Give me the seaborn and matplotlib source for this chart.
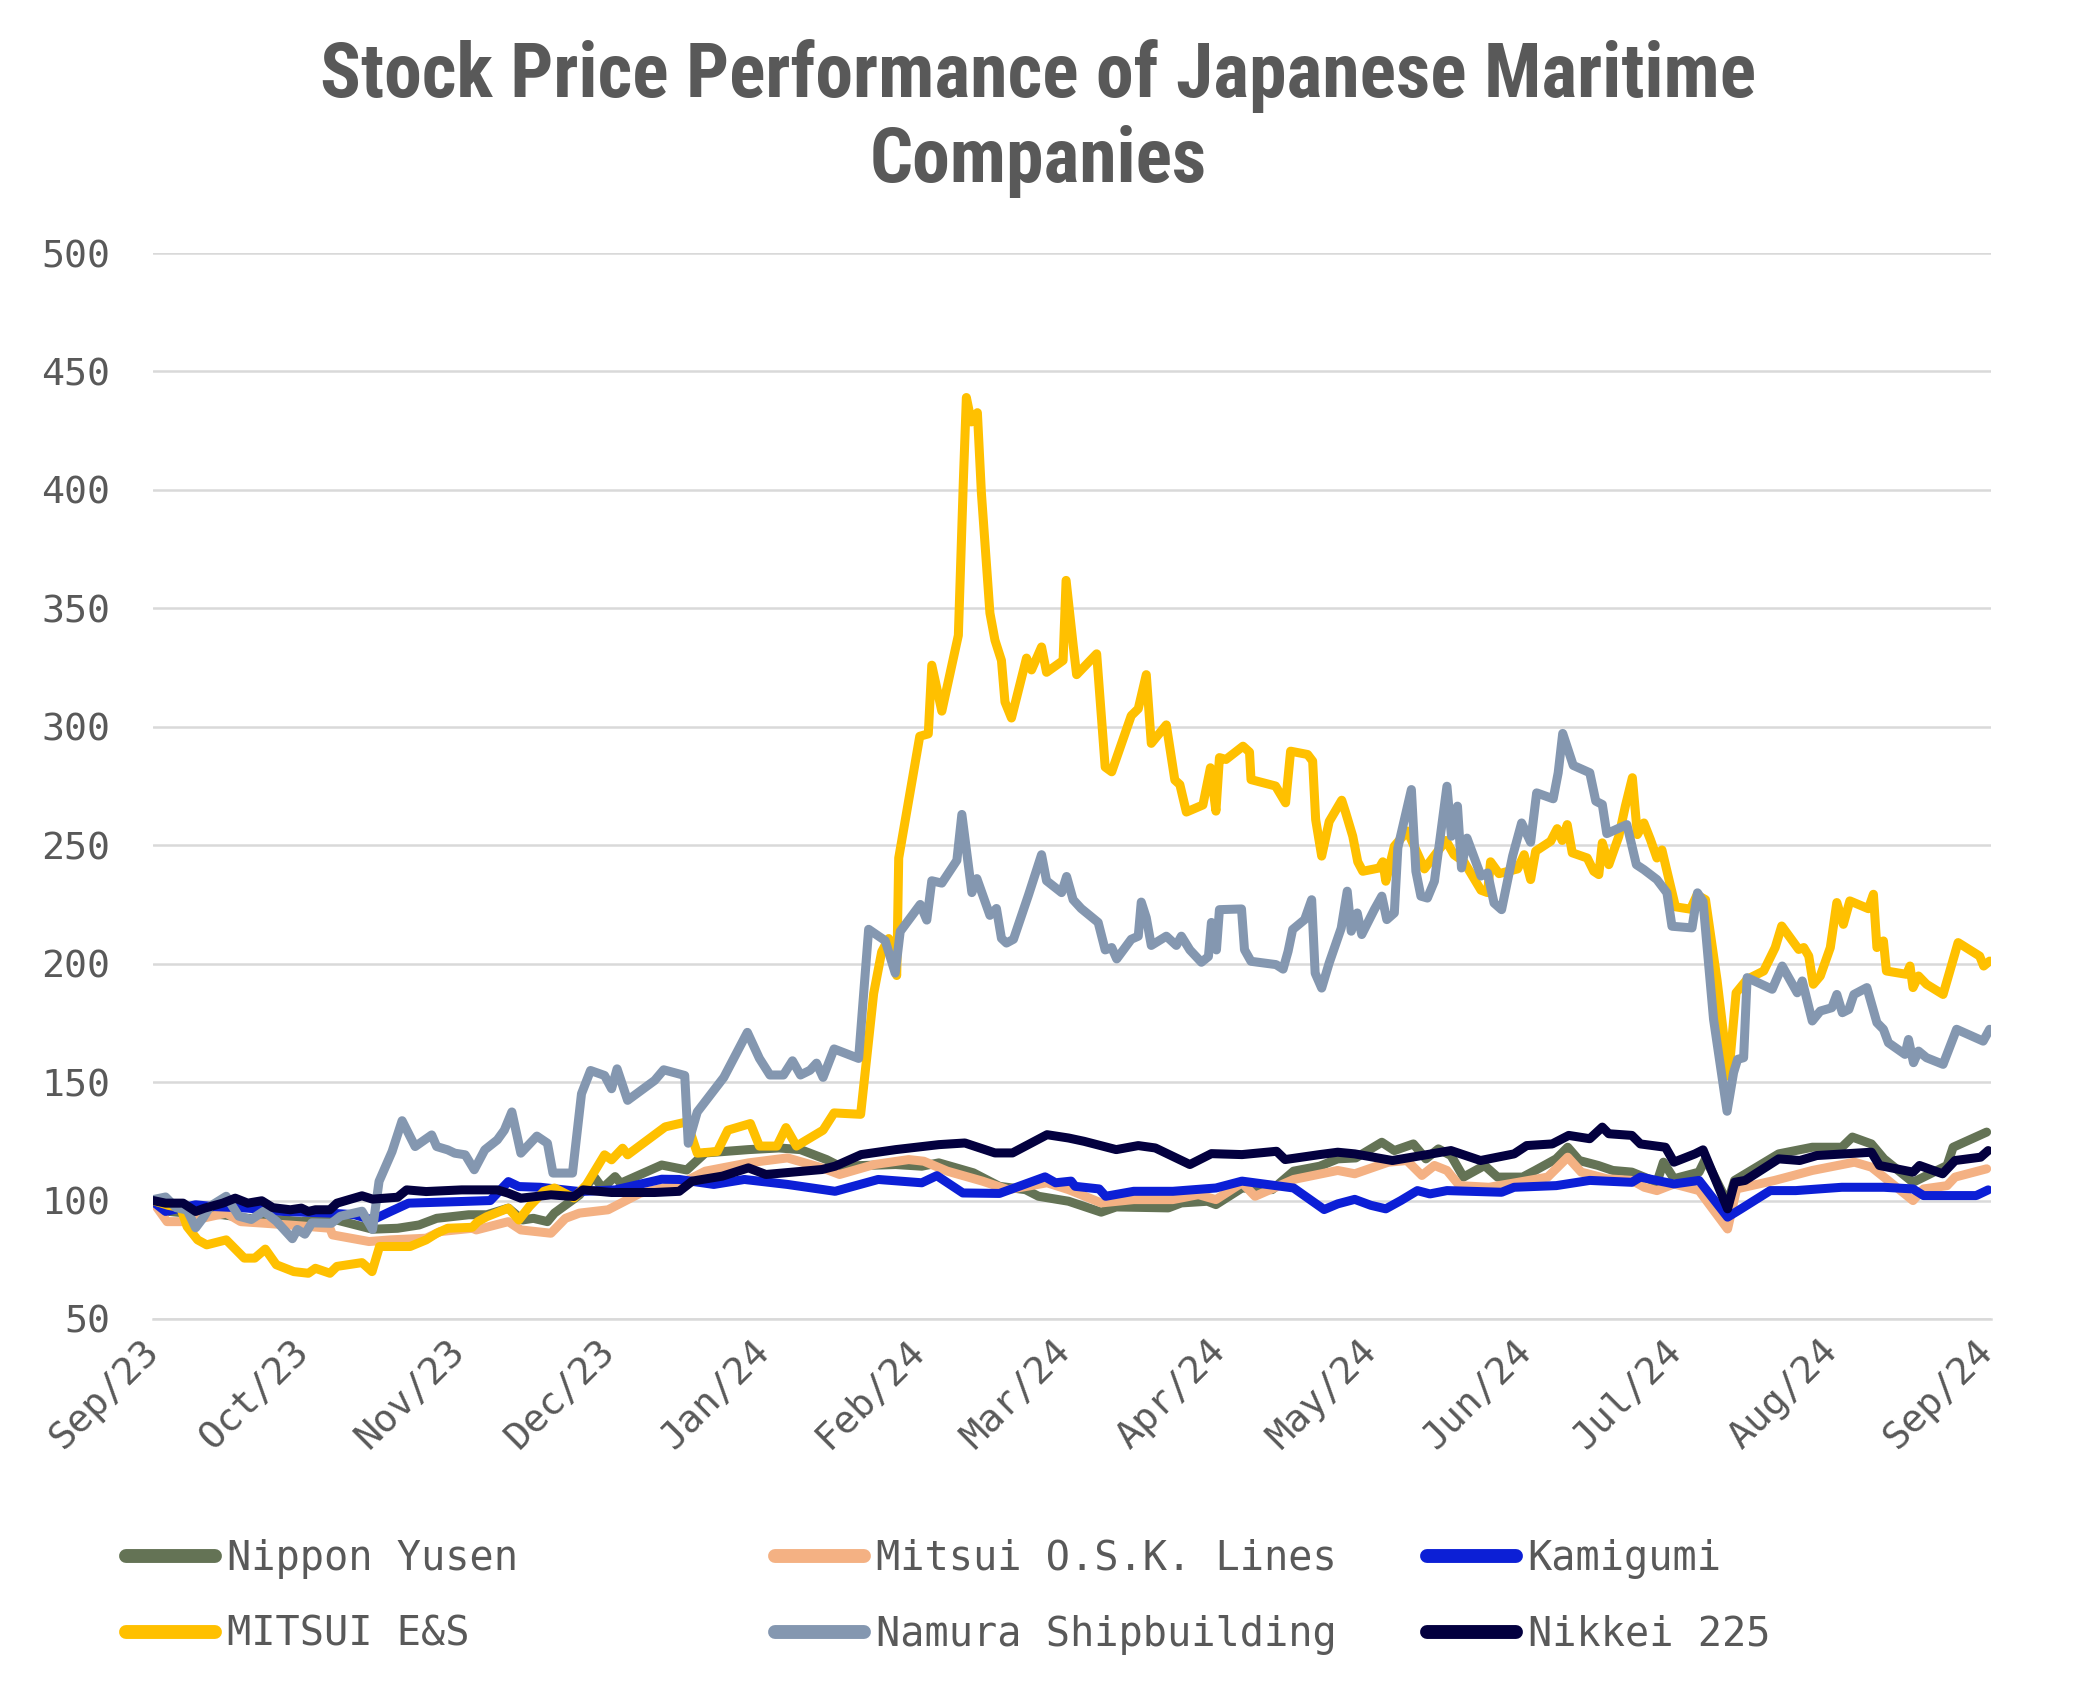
import matplotlib
matplotlib.use("Agg")
import matplotlib.pyplot as plt
import matplotlib.dates as mdates
from matplotlib import font_manager as fm
from matplotlib.lines import Line2D
import pandas as pd
import seaborn as sns

START = "2023-09-01"
END_DAYS = 366.8

series_names = ["Nippon Yusen", "Mitsui O.S.K. Lines", "Kamigumi",
                "MITSUI E&S", "Namura Shipbuilding", "Nikkei 225"]
series_colors = ["#647355", "#F4B183", "#0C1FD6", "#FFC000", "#8497B0", "#03003F"]

# (days since 2023-09-01, indexed price) pairs
nippon_yusen = [(0, 100), (0.4, 98.9), (3.2, 95.4), (6.8, 94.7), (13.9, 94), (18.9, 92.5), (26, 91.8),
    (29.6, 91.1), (35.3, 92.5), (43.8, 87.9), (48.8, 88.3), (53.1, 89.7), (56.6, 92.5), (63, 94),
    (66.6, 94), (70.9, 96.8), (73.7, 91.8), (75.9, 92.5), (78.7, 91.1), (80.1, 94.7), (85.1, 102.4),
    (88, 110.1), (89.7, 105.2), (92.2, 110.1), (93.3, 107.3), (101.5, 115), (106.5, 112.9),
    (110.2, 120.1), (118.8, 121.5), (124.9, 122.2), (129.2, 121.5), (134.4, 117.3), (137, 114.5),
    (148.2, 115.2), (153.4, 114.5), (156.8, 115.9), (163.7, 111.7), (168.9, 106), (174.1, 104.6),
    (176.7, 101.8), (182.7, 99.7), (189.2, 95.1), (192.2, 97.3), (202.6, 96.9), (205.2, 99),
    (210.4, 99.7), (212.1, 98.3), (217.3, 105.3), (223.3, 104.6), (227.6, 112.4), (232.8, 114.5),
    (236.4, 117.6), (240, 118), (245.2, 124.6), (247.7, 121.1), (251.5, 123.9), (254, 117.6),
    (256.5, 121.8), (259, 119), (261.5, 109.9), (265.7, 114.8), (268.3, 109.9), (273.3, 109.9),
    (275.8, 112.7), (280, 117.6), (282.3, 122.5), (284.6, 116.9), (288.4, 114.8), (291.3, 112.7),
    (295.1, 112), (300.1, 107.7), (301.4, 116.2), (303.5, 109.2), (308.5, 112), (309.8, 117.6),
    (314.2, 99), (315.6, 108.5), (324.4, 119.7), (331.1, 122.5), (337, 122.5), (339.1, 126.8),
    (342.9, 123.9), (345.4, 117.6), (351.2, 107.7), (358, 114.8), (359.2, 122.5), (365.9, 128.9)]

mitsui_osk = [(0, 100), (0.4, 98.2), (2.8, 91.1), (6.8, 91.1), (14.6, 94.7), (17.5, 91.1), (22.4, 90.4),
    (29.6, 89.3), (35.3, 88.3), (35.8, 85.5), (43.1, 82.7), (47.4, 83.4), (54.5, 84.1), (57.3, 86.9),
    (63.7, 88.3), (64.5, 87.6), (70.9, 91.1), (73.4, 87.6), (79.4, 86.2), (82.3, 92.5), (85.1, 94.7),
    (90.8, 96.1), (97.2, 103.1), (105, 106.8), (110.2, 112.4), (118.8, 115.9), (126.6, 118),
    (133.5, 113.8), (137, 111), (143.9, 115.2), (150.8, 117.3), (153.8, 116.6), (158.5, 112.4),
    (165.5, 108.2), (170.6, 104.6), (178.4, 107.5), (182.7, 104.6), (189.2, 99), (195.7, 100.4),
    (203.5, 100.4), (208.6, 102.5), (212.1, 100.4), (217.3, 107.5), (219.9, 101.8), (227.6, 108.9),
    (236.4, 112.7), (239.8, 111.3), (246.5, 116.2), (250.2, 116.9), (253.2, 110.6), (255.7, 114.8),
    (258.2, 112.7), (260.7, 106.3), (266.6, 105.6), (272.4, 107.7), (278.3, 109.9), (282.3, 118.3),
    (285, 112), (290.1, 109.2), (295.1, 108.5), (297.6, 105.6), (300.1, 104.2), (303.5, 107),
    (308.5, 104.2), (314.2, 88), (316, 104.9), (323.6, 108.5), (331.1, 112.7), (339.5, 116.2),
    (342.9, 114.1), (345.4, 109.9), (351.2, 100), (353.3, 104.9), (358, 106.3), (359.6, 109.9),
    (365.9, 113.4)]

kamigumi = [(0, 100), (0.4, 98.9), (2.5, 95.4), (8.5, 98.2), (11.8, 97.5), (18.9, 96.8), (26, 95.4),
    (35.3, 94.7), (40.2, 94), (43.8, 91.8), (47.4, 95.4), (51, 98.9), (61.6, 99.6), (67.3, 100),
    (70.9, 108), (73, 105.9), (77.3, 105.6), (85.1, 103.8), (92.2, 104.5), (101.5, 109), (105, 108.9),
    (111.9, 106.8), (118, 108.9), (126.6, 106.8), (136.1, 103.9), (144.7, 108.9), (153.4, 107.5),
    (156.4, 110.5), (161.6, 103.2), (168.9, 103), (178, 110), (180.1, 107.5), (183.2, 108.2),
    (184, 106), (188.8, 104.9), (190.1, 101.8), (195.7, 103.9), (203.5, 103.9), (212.1, 105.3),
    (217.3, 108.2), (227.6, 105.3), (233.7, 96.2), (236.4, 98.6), (239.8, 100.5), (243, 98),
    (246, 96.5), (249, 100), (252.3, 104.2), (254.8, 102.8), (258.2, 104.2), (269.1, 103.5),
    (271.6, 105.6), (280, 106.3), (286.7, 108.5), (295.1, 107.7), (296.8, 109.9), (303.5, 107),
    (308.5, 108.5), (314.2, 93), (316.9, 96.5), (322.7, 104.2), (327.8, 104.2), (337, 105.6),
    (345.4, 105.6), (351.2, 104.9), (353.3, 102.1), (363.8, 102.1), (366.2, 104.5)]

mitsui_es = [(0, 100), (3, 98), (5.5, 97), (6.8, 89), (8.9, 83.4), (10.7, 81.3), (14.6, 83.4),
    (18.2, 75.7), (20.3, 75.7), (22.4, 79.5), (24.6, 72.9), (28.1, 70), (31, 69.3), (32.4, 71.4),
    (35.3, 69.3), (36.7, 72.2), (41.7, 73.8), (43.7, 70), (45.2, 80.6), (51.3, 80.6), (54.5, 83.4),
    (56.6, 86.2), (58.8, 88.3), (63.7, 88.7), (64.8, 91.1), (66.6, 93.2), (70.9, 96.8), (73, 91.8),
    (75.1, 97.5), (78, 103.9), (80.1, 105.3), (84, 101.1), (86.5, 106.7), (90.1, 119.3), (91.5, 117.2),
    (93.7, 122.1), (94.7, 119.3), (102.2, 131.1), (106.5, 133.2), (107.5, 127), (108.6, 120),
    (112.6, 120.7), (114.7, 129.7), (119.2, 132.5), (121, 123), (124.5, 123), (126.3, 130.8),
    (128.4, 123), (133.7, 129.7), (135.9, 137), (141.2, 136.4), (143.8, 187.4), (145.4, 205),
    (146.8, 210.6), (148.4, 195), (148.8, 244.6), (153, 296), (154.7, 297), (155.4, 326),
    (157.4, 306.6), (160.7, 338.6), (161.7, 404), (162.3, 439), (163.3, 428.7), (164.5, 432.6),
    (165.3, 398.6), (167, 348), (168, 336.6), (169.3, 328), (170, 310.5), (171.3, 303.7),
    (174.3, 329), (175.3, 324), (177.3, 333.7), (178.3, 323), (181.6, 328), (182.2, 361.8),
    (183.6, 334.7), (184.3, 322), (188.3, 330.8), (190, 283), (191.3, 281), (195.2, 304.7),
    (196.6, 307.6), (198.2, 322), (199.2, 293), (202.2, 300.8), (203.9, 277.5), (204.9, 275.6),
    (206.2, 264), (209.5, 267), (211, 282.7), (212.1, 264.4), (212.8, 287), (214.1, 286.2),
    (217.5, 291.8), (218.8, 289.3), (219.1, 277.7), (224, 275), (226, 267.9), (227, 289.7),
    (230.4, 288.3), (231.4, 285.5), (232, 260.8), (233.2, 245.4), (234.7, 260), (237.2, 269),
    (238, 263.7), (239.4, 253.8), (240.4, 243), (241.4, 239), (244.7, 240.4), (245.4, 243),
    (246, 234.8), (247.7, 249.6), (250.3, 256), (253.7, 240), (258, 252), (259.6, 246),
    (261.6, 243), (265, 231), (266.3, 230), (266.9, 243), (268.6, 238), (272.3, 240), (273.6, 246),
    (274.9, 235.5), (275.9, 247.5), (278.9, 251.7), (280.2, 257), (281.2, 252), (282.2, 258.7),
    (283.2, 246.8), (286.2, 244.6), (287.5, 239), (288.5, 237.6), (289.2, 251), (290.5, 241.8),
    (292.5, 253.8), (293.8, 266.5), (295.2, 278.5), (296.2, 254.5), (297.5, 259.4), (298.8, 252.4),
    (300.1, 244.6), (301.1, 248), (302.5, 235.5), (303.8, 224), (306.8, 223), (308.1, 229),
    (309.8, 227), (312.1, 193), (314.4, 152.5), (315.9, 187.7), (318.1, 193.4), (321.4, 196.9),
    (323.7, 206.8), (325, 215.9), (328.4, 206), (329.4, 206.8), (330.4, 203.2), (331.3, 191.3),
    (332.7, 194.8), (334.7, 206.8), (336, 225.8), (337.3, 216.6), (338.6, 226.5), (342.3, 223.2),
    (343.3, 229.3), (344, 206.8), (345.3, 209.6), (345.9, 196.9), (349.9, 195.5), (350.6, 199),
    (351.2, 189.9), (352.3, 194.8), (353.9, 191.3), (357.2, 187), (360.2, 208.9), (364.5, 203.2),
    (365.3, 199), (366.5, 201.1)]

namura = [(0, 100.4), (2.5, 101.5), (4.6, 97), (6.8, 96), (8.5, 88.5), (10, 92.7), (11.4, 97.6),
    (14.6, 101.8), (17.1, 93.4), (19.6, 92), (22.1, 95.5), (24.6, 91.3), (27.8, 83.9), (28.8, 87.8),
    (30.3, 85.8), (31.7, 90.6), (35.6, 90.4), (37.4, 93.4), (41.7, 95.5), (43.8, 87.8), (45.1, 108.1),
    (47.7, 120.7), (49.7, 133.7), (52.3, 122.8), (55.6, 127.7), (56.6, 122.8), (58.8, 121.4),
    (60.2, 120), (62.3, 119.3), (64.1, 113), (66.2, 121.4), (68.7, 125.6), (70.1, 129.7),
    (71.6, 137.4), (73.4, 120), (76.6, 127.2), (78.7, 124.2), (79.8, 111.6), (83.7, 111.6),
    (85.5, 145.1), (87.3, 154.9), (90.1, 152.8), (91.5, 147.2), (92.6, 155.6), (94.7, 142.3),
    (100.1, 150.7), (101.9, 155.2), (106.1, 152.8), (106.8, 124.2), (108.6, 137.4), (113.9, 152),
    (118.6, 171), (121, 160), (123.1, 153), (125.8, 153), (127.6, 159), (129.2, 153), (131.1, 155),
    (132.4, 158), (133.7, 152), (135.9, 164), (140.8, 160), (142.8, 214.5), (146.1, 209.7),
    (148.1, 196), (149.1, 213.6), (153.1, 225), (154.4, 218.4), (155.4, 235), (157.4, 234),
    (160.4, 243.6), (161.4, 263), (163.4, 230), (164.4, 235.9), (167, 220.4), (168.3, 223.3),
    (169.3, 210.7), (170.3, 208.7), (171.7, 210.3), (174.7, 229), (177.3, 246), (178.3, 235),
    (181.3, 230), (182.3, 236.8), (183.6, 227), (185.2, 223.3), (188.6, 217.4), (190, 205.8),
    (191.3, 206.8), (192.3, 202), (195.2, 210.3), (196.6, 211.6), (197.2, 226), (198.2, 219.4),
    (199.2, 207.7), (202.2, 211.6), (204.2, 207.7), (205.2, 211.6), (206.9, 205.8), (209.2, 200.6),
    (210.6, 203), (211.2, 217.4), (212.2, 205.8), (212.8, 222.8), (217.2, 223.1), (217.8, 205.9),
    (219.1, 201), (224.1, 199.6), (225.5, 197.7), (226.5, 205.2), (227.4, 214.4), (229.8, 218.6),
    (231.2, 227), (231.9, 196), (233.2, 189.7), (234.7, 200.3), (237.1, 215), (238.3, 230.6),
    (239.1, 213.7), (240.3, 221.4), (241.2, 212.3), (243.7, 222.8), (245.2, 228.5), (246.2, 218.6),
    (247.7, 221.4), (248.4, 248.9), (251.1, 273.5), (252, 239), (253, 228.5), (254.3, 227.7),
    (255.7, 234.8), (258.2, 274.9), (259.1, 253.8), (260.3, 266.5), (261.1, 240.4), (262.2, 253),
    (265, 237), (266.3, 238.3), (267.6, 225.6), (269.1, 222.8), (271.3, 245.4), (273.1, 259.4),
    (274.9, 251.3), (276.1, 272.1), (279.4, 269.6), (280.4, 280.6), (281.3, 297.2), (283.4, 283.7),
    (286.7, 280.6), (287.9, 268.6), (289.2, 267.2), (290.1, 254.9), (294.1, 258.7), (296, 241.8),
    (297.5, 239.7), (300.1, 235.5), (302.1, 229.9), (303.1, 215.8), (307.1, 215.1), (308.2, 229.9),
    (309.3, 226.3), (311.4, 176.5), (314.1, 137.7), (315.4, 154), (316.2, 159.6), (317.4, 160.3),
    (318.1, 194.1), (323.1, 189.2), (325.1, 199), (328.1, 187.7), (329.1, 192.7), (331.1, 175.8),
    (332.7, 180), (335, 181.4), (336, 187), (337.1, 179.3), (338.4, 180.7), (339.4, 187), (342, 189.9),
    (344, 175.1), (345.3, 172.3), (346.3, 166.6), (349.6, 161.7), (350.3, 168), (351.3, 158.2),
    (352.3, 163.1), (353.9, 160.3), (357.2, 157.5), (359.9, 172.3), (365.2, 167.3), (366.5, 172.3)]

nikkei = [(0, 100), (2.5, 98.9), (6, 98.9), (8.5, 95.4), (10.3, 96.8), (13.9, 98.9), (16.4, 101),
    (18.9, 98.9), (21.7, 99.9), (23.9, 97), (27.4, 96.1), (29.6, 96.8), (31, 95.4), (32.4, 96.1),
    (35.3, 96.1), (36.7, 98.9), (41.7, 102), (43.8, 100.6), (48.8, 101.4), (50.6, 104.5),
    (54.5, 103.8), (61.6, 104.5), (68.7, 104.5), (70.9, 103.1), (73.4, 101), (79.4, 102.4),
    (84, 101.7), (85.8, 104.5), (91.5, 103.4), (100.1, 103.4), (105, 103.9), (107.6, 108.2),
    (113.6, 110.3), (118.8, 113.8), (122.3, 111), (133.5, 113.1), (136.1, 114.5), (141.3, 119.4),
    (148.2, 121.5), (156.8, 123.6), (162, 124.3), (168, 120.1), (171.5, 120.1), (178.4, 127.8),
    (182.7, 126.4), (185.8, 125), (192.2, 121.5), (196.6, 123.2), (200, 122.2), (206.9, 115.2),
    (211.2, 119.8), (217.3, 119.4), (224.2, 120.8), (225.9, 117.3), (232.8, 119.4), (236.4, 120.4),
    (239.8, 119.7), (247.3, 116.9), (259, 121.1), (264.9, 116.9), (271.6, 119.7), (274.1, 123.2),
    (279.2, 123.9), (282.5, 127.5), (286.7, 126.1), (289.2, 131), (290.5, 128.2), (295.1, 127.5),
    (296.8, 123.9), (301.8, 122.5), (303.5, 116.2), (307.7, 119.7), (309.3, 121.4), (314.2, 96.5),
    (315.6, 107.7), (317.7, 108.5), (324.4, 117.6), (328.6, 116.9), (332, 119), (342.9, 120.4),
    (344.5, 114.8), (351.2, 112), (352.5, 114.8), (357.1, 111.3), (359.6, 116.9), (364.7, 118.3),
    (366.2, 121.1)]

series_data = [nippon_yusen, mitsui_osk, kamigumi, mitsui_es, namura, nikkei]

y_ticks = [50, 100, 150, 200, 250, 300, 350, 400, 450, 500]
title_text = "Stock Price Performance of Japanese Maritime\nCompanies"

# ---- build long table ----
start = pd.Timestamp(START)
frames = []
for name, pts in zip(series_names, series_data):
    d = pd.DataFrame(pts, columns=["day", "value"])
    d["date"] = start + pd.to_timedelta(d["day"], unit="D")
    d["series"] = name
    frames.append(d)
df = pd.concat(frames, ignore_index=True)

sns.set_style("white")
plt.rcParams["font.family"] = ["DejaVu Sans Mono", "DejaVu Sans"]

TXT = "#595959"
GRID = "#D9D9D9"

# condensed bold font for the title, if one is installed
title_fp = None
for key in ["RobotoCondensed-Bold", "LiberationSansNarrow-Bold", "DejaVuSansCondensed-Bold"]:
    hits = [f.fname for f in fm.fontManager.ttflist if key.lower() in f.fname.lower().replace("_", "-")]
    if not hits:
        hits = [p for p in fm.findSystemFonts() if key.lower() in p.lower()]
    if hits:
        title_fp = fm.FontProperties(fname=hits[0], size=54.5)
        break
if title_fp is None:
    title_fp = fm.FontProperties(family="DejaVu Sans", weight="bold", size=40)

fig = plt.figure(figsize=(20.85, 17.05), dpi=100)
ax = fig.add_axes([0.0734, 0.2264, 0.8816, 0.6252])

sns.lineplot(data=df, x="date", y="value", hue="series", hue_order=series_names,
             palette=dict(zip(series_names, series_colors)), linewidth=6.5,
             estimator=None, sort=False, legend=False, ax=ax)
for ln in ax.lines:
    ln.set_solid_joinstyle("round")
    ln.set_solid_capstyle("round")

ax.set_ylim(50, 500)
ax.set_yticks(y_ticks)
ax.set_xlim(start, start + pd.Timedelta(days=END_DAYS))
ax.xaxis.set_major_locator(mdates.MonthLocator())
ax.xaxis.set_major_formatter(mdates.DateFormatter("%b/%y"))

ax.yaxis.grid(True, color=GRID, linewidth=1.8)
ax.xaxis.grid(False)
ax.set_axisbelow(True)
for s in ["top", "right", "left"]:
    ax.spines[s].set_visible(False)
ax.spines["bottom"].set_color(GRID)
ax.spines["bottom"].set_linewidth(1.8)

ax.set_xlabel("")
ax.set_ylabel("")
ax.tick_params(axis="y", length=0, pad=31, labelsize=27.5, labelcolor=TXT)
ax.tick_params(axis="x", length=9, width=1.8, color=GRID, pad=10, labelsize=27.5, labelcolor=TXT)
for lab in ax.get_xticklabels():
    lab.set_rotation(45)
    lab.set_ha("right")
    lab.set_va("center")
    lab.set_rotation_mode("anchor")

fig.text(0.498, 0.9305, title_text, ha="center", va="center",
         fontproperties=title_fp, fontweight="bold", color=TXT, linespacing=1.22)

# legend: three columns, two rows each
col_x = [0.0604, 0.3717, 0.6844]
cols = [[0, 3], [1, 4], [2, 5]]
for cx, idxs in zip(col_x, cols):
    handles = [Line2D([0], [0], color=series_colors[i], lw=10, solid_capstyle="round") for i in idxs]
    labels = [series_names[i] for i in idxs]
    fig.legend(handles, labels, loc="center left", bbox_to_anchor=(cx, 0.0635),
               frameon=False, borderpad=0, borderaxespad=0, handlelength=2.2,
               handletextpad=0.3, labelspacing=0.9, fontsize=29, labelcolor=TXT)

fig.savefig("out.png", dpi=100)
